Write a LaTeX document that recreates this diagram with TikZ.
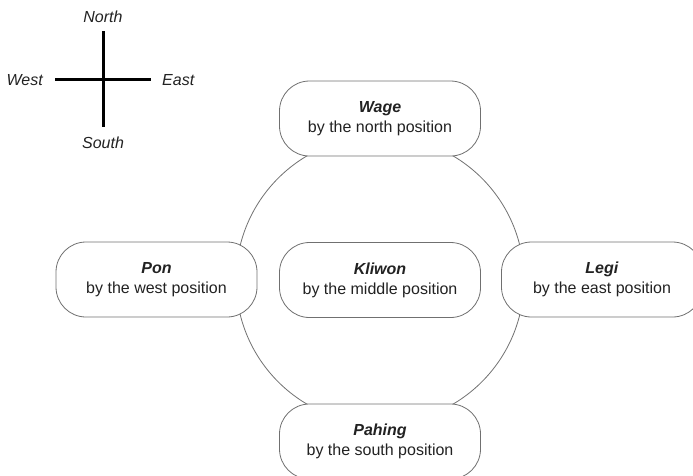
\documentclass[tikz,border=0pt]{standalone}
\usepackage{fontspec}
\setmainfont{Liberation Sans}
\definecolor{edgegray}{HTML}{707070}
\definecolor{txt}{HTML}{222222}
\begin{document}
\begin{tikzpicture}[x=1pt,y=-1pt,
  daybox/.style={draw=edgegray, line width=0.8pt, fill=white, rounded corners=30pt,
    minimum width=201pt, minimum height=75pt, align=center, text=txt,
    font=\fontsize{16}{20}\selectfont, inner sep=0pt},
  dirlabel/.style={text=txt, font=\fontsize{16}{20}\selectfont\itshape, inner sep=0pt},
  compass/.style={line width=3pt, black}]
\useasboundingbox (0,0) rectangle (693,475);
% background ring
\draw[edgegray, line width=0.8pt] (380,280) circle[radius=144];
% day boxes
\node[daybox] (wage)   at (380,118.5) {\textbf{\textit{Wage}}\\by the north position};
\node[daybox] (pon)    at (156.5,279.5) {\textbf{\textit{Pon}}\\by the west position};
\node[daybox] (kliwon) at (380,280) {\textbf{\textit{Kliwon}}\\by the middle position};
\node[daybox] (legi)   at (602,279.5) {\textbf{\textit{Legi}}\\by the east position};
\node[daybox] (pahing) at (380,441.5) {\textbf{\textit{Pahing}}\\by the south position};
% compass
\coordinate (cn) at (103,31);
\coordinate (cs) at (103,127);
\coordinate (cw) at (55,79);
\coordinate (ce) at (151,79);
\draw[compass] (cn) -- (cs);
\draw[compass] (cw) -- (ce);
\node[dirlabel] (north) at (103,17) {North};
\node[dirlabel] (south) at (103,143) {South};
\node[dirlabel, anchor=east] (west) at (43,80) {West};
\node[dirlabel, anchor=west] (east) at (162,80) {East};
\end{tikzpicture}
\end{document}
